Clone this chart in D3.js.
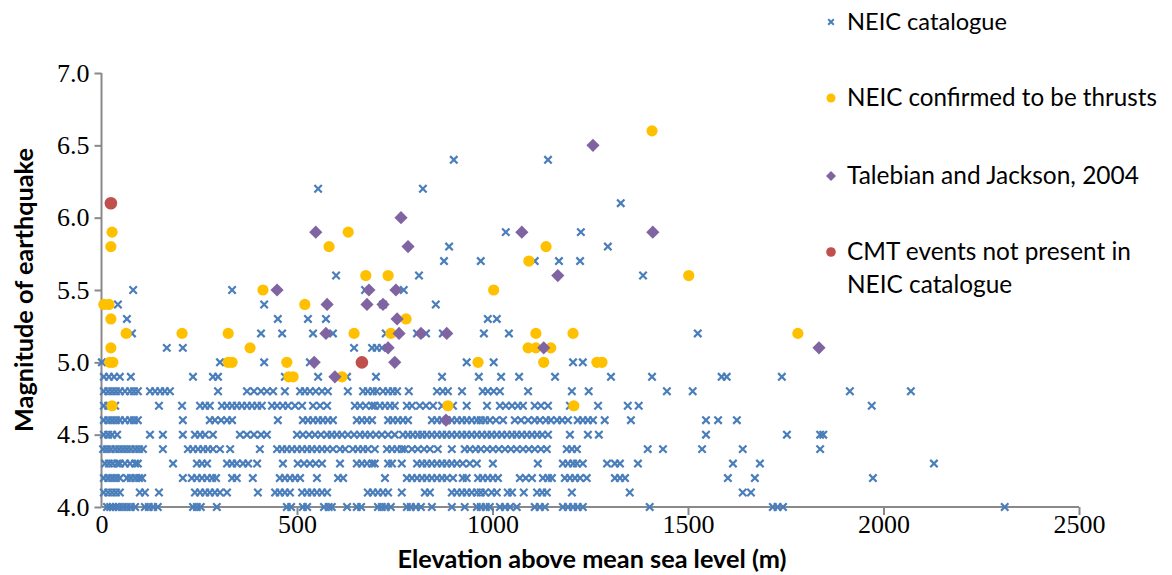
<!DOCTYPE html>
<html><head><meta charset="utf-8">
<script src="https://cdn.jsdelivr.net/npm/d3@7"></script>
<style>body{margin:0;background:#fff}svg{display:block}</style>
</head><body>
<svg id="chart" width="1172" height="575"></svg>
<script>
// ---- data (elevation m, magnitude) ----
const xTicks = [0, 500, 1000, 1500, 2000, 2500];
const yTicks = [4.0, 4.5, 5.0, 5.5, 6.0, 6.5, 7.0];
const seriesNames = ["NEIC catalogue", "NEIC confirmed to be thrusts", "Talebian and Jackson, 2004", "CMT events not present in NEIC catalogue"];

// NEIC catalogue: magnitude levels and the elevations observed at each level
const neicLevels = [4.0, 4.1, 4.2, 4.3, 4.4, 4.5, 4.6, 4.7, 4.8, 4.9, 5.0, 5.1, 5.2, 5.3, 5.4, 5.5, 5.6, 5.7, 5.8, 5.9, 6.1, 6.2, 6.4];
const neicElevations = [
  [14,22,29,37,45,55,65,75,86,111,121,132,144,234,244,254,295,474,485,515,526,569,581,589,628,653,664,707,717,727,740,781,791,804,817,845,896,929,960,970,983,993,1019,1032,1045,1062,1108,1121,1134,1180,1193,1206,1218,1231,1402,1717,1729,1743,2310],
  [6,17,27,37,47,98,111,147,239,252,265,277,290,303,321,400,444,456,469,482,513,526,538,551,564,577,681,694,707,720,733,768,827,840,896,909,922,934,947,960,970,981,998,1011,1039,1050,1080,1114,1127,1139,1203,1351,1640,1661],
  [6,17,27,37,47,65,75,86,96,104,208,231,244,257,270,283,293,334,346,387,456,469,482,495,508,551,605,618,725,781,794,807,820,832,845,858,871,883,899,924,934,963,975,988,1001,1014,1070,1085,1101,1129,1142,1152,1185,1198,1211,1224,1241,1313,1326,1339,1602,1671,1973],
  [9,19,29,40,47,60,73,86,93,183,244,257,270,321,334,346,362,375,398,464,502,518,533,548,564,610,653,666,679,692,699,733,743,768,807,820,832,845,858,871,883,896,909,924,942,960,1001,1116,1180,1193,1206,1216,1231,1293,1313,1326,1372,1615,1684,2129],
  [4,14,24,35,45,55,65,75,86,96,106,157,221,234,247,260,272,285,303,329,405,449,462,474,487,500,513,526,538,551,564,577,592,610,623,643,656,669,681,699,730,743,756,768,776,794,809,825,840,860,896,929,942,957,970,986,1001,1016,1032,1047,1062,1078,1093,1108,1124,1139,1190,1203,1216,1397,1436,1536,1640,1838],
  [6,17,27,40,124,157,208,239,252,265,285,354,372,390,408,423,500,515,531,546,561,577,589,602,615,630,646,661,674,687,702,717,733,750,771,784,796,809,820,832,845,858,871,883,896,909,922,934,947,960,973,986,998,1011,1024,1037,1050,1062,1075,1088,1101,1114,1127,1142,1198,1244,1272,1546,1753,1838,1846],
  [6,17,27,37,47,60,73,83,93,208,277,290,306,321,334,451,515,528,541,554,566,579,592,653,666,679,692,733,745,758,771,784,845,858,871,883,896,909,922,934,947,960,970,981,993,1009,1027,1057,1073,1091,1108,1121,1137,1149,1165,1178,1193,1218,1231,1244,1257,1287,1354,1546,1577,1625],
  [6,17,35,147,206,252,265,277,308,321,334,346,359,372,385,398,410,436,449,464,477,495,513,541,559,577,648,661,676,692,699,712,725,738,750,781,794,814,830,848,871,899,934,986,1019,1034,1050,1065,1078,1108,1124,1142,1198,1270,1346,1374,1970],
  [6,17,27,37,47,60,73,83,93,124,137,150,162,175,298,372,390,408,423,439,469,508,520,533,548,564,579,630,669,681,694,704,720,733,745,756,786,858,873,886,922,975,988,1003,1019,1091,1203,1246,1446,1512,1914,2070],
  [6,19,32,47,75,234,285,298,469,554,628,702,871,965,1022,1068,1160,1303,1408,1586,1599,1740],
  [1,303,416,533,934,1003,1206,1231],
  [167,208,646,692,704,717],
  [78,408,462,541,592,727,807,830,873,978,1042,1525],
  [65,451,528,574,988,1011],
  [42,416,720,855],
  [81,334,674,773],
  [600,812,1385],
  [876,970,1108,1170,1224],
  [889,1295],
  [1034,1226],
  [1328],
  [554,822],
  [901,1142]
];

// NEIC confirmed to be thrusts
const thrustElev = [1408, 27, 631, 24, 582, 1137, 1093, 676, 733, 1502, 413, 1003, 6, 19, 520, 24, 779, 63, 206, 324, 646, 740, 1111, 1206, 1781, 24, 380, 1091, 1111, 1149, 21, 29, 324, 334, 474, 963, 1131, 1267, 1280, 479, 490, 615, 27, 886, 1208];
const thrustMag  = [6.6, 5.9, 5.9, 5.8, 5.8, 5.8, 5.7, 5.6, 5.6, 5.6, 5.5, 5.5, 5.4, 5.4, 5.4, 5.3, 5.3, 5.2, 5.2, 5.2, 5.2, 5.2, 5.2, 5.2, 5.2, 5.1, 5.1, 5.1, 5.1, 5.1, 5.0, 5.0, 5.0, 5.0, 5.0, 5.0, 5.0, 5.0, 5.0, 4.9, 4.9, 4.9, 4.7, 4.7, 4.7];

// Talebian and Jackson, 2004
const talebianElev = [1257, 766, 548, 1075, 1410, 784, 1167, 449, 684, 753, 577, 679, 720, 756, 574, 761, 817, 883, 733, 1131, 1835, 544, 750, 597, 881];
const talebianMag  = [6.5, 6.0, 5.9, 5.9, 5.9, 5.8, 5.6, 5.5, 5.5, 5.5, 5.4, 5.4, 5.4, 5.3, 5.2, 5.2, 5.2, 5.2, 5.1, 5.1, 5.1, 5.0, 5.0, 4.9, 4.6];

// CMT events not present in NEIC catalogue
const cmtElev = [24, 666];
const cmtMag  = [6.1, 5.0];

// ---- chart ----
const svg = d3.select("#chart");
const x = d3.scaleLinear().domain([0, 2500]).range([101.5, 1079]);
const y = d3.scaleLinear().domain([4, 7]).range([507, 73]);
const axisColor = "#898989";
const serif = "'Liberation Serif','Times New Roman',serif";
const sans = "Lato, 'Open Sans', sans-serif";

// axes
const xAxis = svg.append("g").attr("transform", `translate(0,${y(4)})`)
  .call(d3.axisBottom(x).tickValues(xTicks).tickSize(8).tickPadding(2).tickFormat(d3.format("d")));
const yAxis = svg.append("g").attr("transform", `translate(${x(0)},0)`)
  .call(d3.axisLeft(y).tickValues(yTicks).tickSize(7).tickPadding(5).tickFormat(d3.format(".1f")));
[xAxis, yAxis].forEach(g => {
  g.attr("font-family", null).attr("font-size", null);
  g.select(".domain").attr("stroke", axisColor).attr("stroke-width", 2);
  g.selectAll(".tick line").attr("stroke", axisColor).attr("stroke-width", 2);
  g.selectAll(".tick text").attr("fill", "#000").style("font-family", serif).style("font-size", "26px");
});
xAxis.selectAll(".tick text").attr("dy", "0.62em");
xAxis.select(".domain").attr("d", `M${x(0)},0H${x(2500)}`);
xAxis.selectAll(".tick").filter(d => d === 0).select("line").remove();
yAxis.select(".domain").attr("d", `M0,${y(7)}V${y(4)}`);

// markers
const crossPath = s => `M${-s},${-s}L${s},${s}M${-s},${s}L${s},${-s}`;
const neicPts = [];
neicLevels.forEach((m, i) => neicElevations[i].forEach(e => neicPts.push({e, m})));
svg.append("g").selectAll("path").data(neicPts).join("path")
  .attr("transform", d => `translate(${x(d.e)},${y(d.m)})`)
  .attr("d", crossPath(3.7)).attr("stroke", "#4A7EBB").attr("stroke-width", 2.2).attr("fill", "none");

svg.append("g").selectAll("circle").data(thrustElev.map((e, i) => ({e, m: thrustMag[i]}))).join("circle")
  .attr("cx", d => x(d.e)).attr("cy", d => y(d.m)).attr("r", 5.6).attr("fill", "#FFC000");

const diamond = s => `M0,${-s}L${s},0L0,${s}L${-s},0Z`;
svg.append("g").selectAll("path").data(talebianElev.map((e, i) => ({e, m: talebianMag[i]}))).join("path")
  .attr("transform", d => `translate(${x(d.e)},${y(d.m)})`)
  .attr("d", diamond(6.6)).attr("fill", "#8064A2");

svg.append("g").selectAll("circle").data(cmtElev.map((e, i) => ({e, m: cmtMag[i]}))).join("circle")
  .attr("cx", d => x(d.e)).attr("cy", d => y(d.m)).attr("r", 6.3).attr("fill", "#C0504D");

// axis titles (fitted to the reference widths)
function fit(sel, target) {
  const len = sel.node().getComputedTextLength();
  const fs = parseFloat(sel.style("font-size"));
  sel.style("font-size", (fs * target / len) + "px");
}
const xt = svg.append("text").attr("x", 592).attr("y", 568).attr("text-anchor", "middle")
  .style("font-family", sans).style("font-weight", "bold").style("font-size", "20px")
  .text("Elevation above mean sea level (m)");
fit(xt, 389);
const yt = svg.append("text").attr("transform", "translate(33,290) rotate(-90)").attr("text-anchor", "middle")
  .style("font-family", sans).style("font-weight", "bold").style("font-size", "20px")
  .text("Magnitude of earthquake");
fit(yt, 284);

// legend
const lg = svg.append("g");
const legendRows = [
  {lines: [seriesNames[0]], y: 22, w: 160},
  {lines: [seriesNames[1]], y: 98, w: 310},
  {lines: [seriesNames[2]], y: 176, w: 292},
  {lines: ["CMT events not present in", "NEIC catalogue"], y: 252, w: 284}
];
lg.append("path").attr("transform", "translate(831,22)").attr("d", crossPath(2.8))
  .attr("stroke", "#4A7EBB").attr("stroke-width", 2).attr("fill", "none");
lg.append("circle").attr("cx", 831).attr("cy", 98).attr("r", 4.5).attr("fill", "#FFC000");
lg.append("path").attr("transform", "translate(831,176)").attr("d", diamond(5)).attr("fill", "#8064A2");
lg.append("circle").attr("cx", 831).attr("cy", 252).attr("r", 4.8).attr("fill", "#C0504D");
legendRows.forEach(r => {
  const t = lg.append("text").attr("x", 847).attr("y", r.y + 8)
    .style("font-family", sans).style("font-size", "22px").attr("fill", "#000");
  r.lines.forEach((ln, i) => t.append("tspan").attr("x", 847).attr("dy", i ? 33 : 0).text(ln));
  const first = t.select("tspan").node().getComputedTextLength();
  t.style("font-size", (22 * r.w / first) + "px");
});
</script>
</body></html>
